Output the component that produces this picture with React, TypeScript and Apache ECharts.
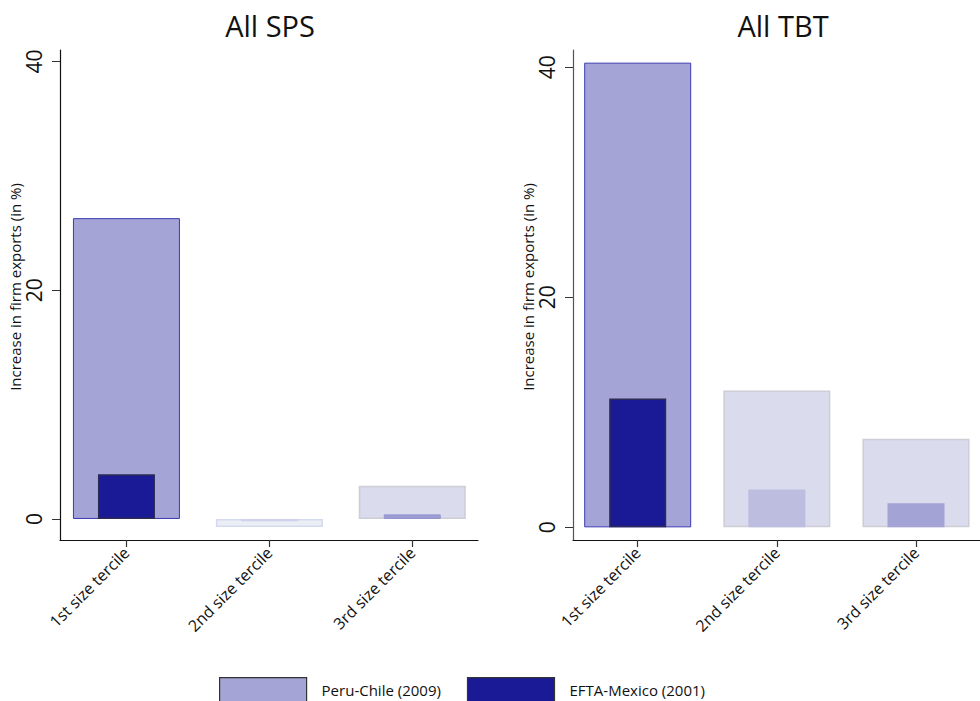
import React, { useEffect, useRef } from "react";
import * as echarts from "echarts";

const categories = ["1st size tercile", "2nd size tercile", "3rd size tercile"];
const panelTitles = ["All SPS", "All TBT"];
const seriesNames = ["Peru-Chile (2009)", "EFTA-Mexico (2001)"];
const yTicks = [0, 20, 40];
const yAxisName = "Increase in firm exports (in %)";

// values
const spsPeruChile = [26.3, -0.7, 2.9];
const spsEftaMexico = [3.9, -0.2, 0.4];
const tbtPeruChile = [40.4, 11.9, 7.7];
const tbtEftaMexico = [11.2, 3.3, 2.1];

// per-bar styles (shade depends on significance)
const spsPeruStyle = [
  { color: "#a4a4d6", borderColor: "#3b3bb3", borderWidth: 1 },
  { color: "#eceef5", borderColor: "#d5d9ee", borderWidth: 1.5 },
  { color: "#dadbed", borderColor: "#cdcdd5", borderWidth: 1.5 },
];
const spsEftaStyle = [
  { color: "#1a1a96", borderColor: "#2b2b55", borderWidth: 1.5 },
  { color: "#8888cc", borderColor: "#cfd0ee", borderWidth: 1.5 },
  { color: "#9d9dd4", borderColor: "#9494cf", borderWidth: 1 },
];
const tbtPeruStyle = [
  { color: "#a4a4d6", borderColor: "#3b3bb3", borderWidth: 1 },
  { color: "#dadbed", borderColor: "#cdcdd5", borderWidth: 1.5 },
  { color: "#dadbed", borderColor: "#cdcdd5", borderWidth: 1.5 },
];
const tbtEftaStyle = [
  { color: "#1a1a96", borderColor: "#2b2b55", borderWidth: 1.5 },
  { color: "#bdbde0", borderColor: "#bdbde0", borderWidth: 0 },
  { color: "#a3a3d5", borderColor: "#a3a3d5", borderWidth: 0 },
];

const FONT = "Open Sans";

function makeData(values: number[], styles: any[]) {
  return values.map((v, i) => ({ value: [i + 1, v], itemStyle: styles[i] }));
}

export default function App() {
  const ref = useRef<HTMLDivElement>(null);
  useEffect(() => {
    if (!ref.current) return;
    const chart = echarts.init(ref.current, null, { renderer: "svg" });

    const grids = [
      { left: 60, top: 50, width: 418, height: 490 },
      { left: 573, top: 50, width: 417, height: 490 },
    ];
    const yRanges = [
      { min: -1.84, max: 41.0 },
      { min: -1.1, max: 41.5 },
    ];

    const xAxes: any[] = [];
    [0, 1].forEach((g) => {
      xAxes.push({
        type: "value",
        gridIndex: g,
        min: 0.535,
        max: 3.46,
        splitLine: { show: false },
        axisLine: { show: true, onZero: false, lineStyle: { color: "#111", width: 1.2 } },
        axisTick: { show: true, customValues: [1, 2, 3], length: 7, lineStyle: { color: "#333", width: 1.2 } },
        axisLabel: {
          customValues: [1, 2, 3],
          rotate: 45,
          margin: 10,
          fontFamily: FONT,
          fontSize: 16,
          color: "#111",
          formatter: (v: number) => categories[Math.round(v) - 1] ?? "",
        },
      });
      xAxes.push({
        type: "value",
        gridIndex: g,
        min: 0.535,
        max: 3.46,
        show: false,
      });
    });

    const yAxes = [0, 1].map((g) => ({
      type: "value",
      gridIndex: g,
      min: yRanges[g].min,
      max: yRanges[g].max,
      splitLine: { show: false },
      axisLine: { show: true, lineStyle: { color: g === 0 ? "#111" : "#555", width: 1.2 } },
      axisTick: { show: true, customValues: yTicks, length: 8, lineStyle: { color: "#333", width: 1 } },
      axisLabel: {
        customValues: yTicks,
        rotate: 90,
        margin: 16,
        fontFamily: FONT,
        fontSize: 21,
        color: "#111",
      },
      name: yAxisName,
      nameLocation: "middle",
      nameGap: 35,
      nameTextStyle: { fontFamily: FONT, fontSize: 15, color: "#111", padding: [0, 0, 0, 16] },
    }));

    const titleStyle = { fontFamily: FONT, fontSize: 29, fontWeight: "normal", color: "#111" };
    const option: any = {
      animation: false,
      backgroundColor: "#fff",
      title: [
        { text: panelTitles[0], left: 265, top: 6, textAlign: "center", textStyle: titleStyle },
        { text: panelTitles[1], left: 778, top: 6, textAlign: "center", textStyle: titleStyle },
      ],
      legend: {
        data: seriesNames,
        left: 219,
        top: 677,
        padding: 0,
        itemWidth: 87,
        itemHeight: 24,
        itemGap: 26,
        icon: "rect",
        itemStyle: { borderColor: "#333", borderWidth: 1.2 },
        textStyle: { fontFamily: FONT, fontSize: 15, color: "#111", padding: [0, 0, 4, 10] },
      },
      grid: grids,
      xAxis: xAxes,
      yAxis: yAxes,
      series: [
        {
          name: seriesNames[0],
          type: "bar",
          xAxisIndex: 0,
          yAxisIndex: 0,
          barWidth: 107,
          itemStyle: { color: "#a4a4d6", borderColor: "#3b3bb3" },
          data: makeData(spsPeruChile, spsPeruStyle),
        },
        {
          name: seriesNames[1],
          type: "bar",
          xAxisIndex: 1,
          yAxisIndex: 0,
          barWidth: 57,
          itemStyle: { color: "#1a1a96", borderColor: "#2b2b55" },
          data: makeData(spsEftaMexico, spsEftaStyle),
        },
        {
          name: seriesNames[0],
          type: "bar",
          xAxisIndex: 2,
          yAxisIndex: 1,
          barWidth: 107,
          itemStyle: { color: "#a4a4d6", borderColor: "#3b3bb3" },
          data: makeData(tbtPeruChile, tbtPeruStyle),
        },
        {
          name: seriesNames[1],
          type: "bar",
          xAxisIndex: 3,
          yAxisIndex: 1,
          barWidth: 57,
          itemStyle: { color: "#1a1a96", borderColor: "#2b2b55" },
          data: makeData(tbtEftaMexico, tbtEftaStyle),
        },
      ],
    };
    chart.setOption(option);
    return () => chart.dispose();
  }, []);

  return <div ref={ref} style={{ width: 980, height: 701, position: "absolute", left: 0, top: 0 }} />;
}
